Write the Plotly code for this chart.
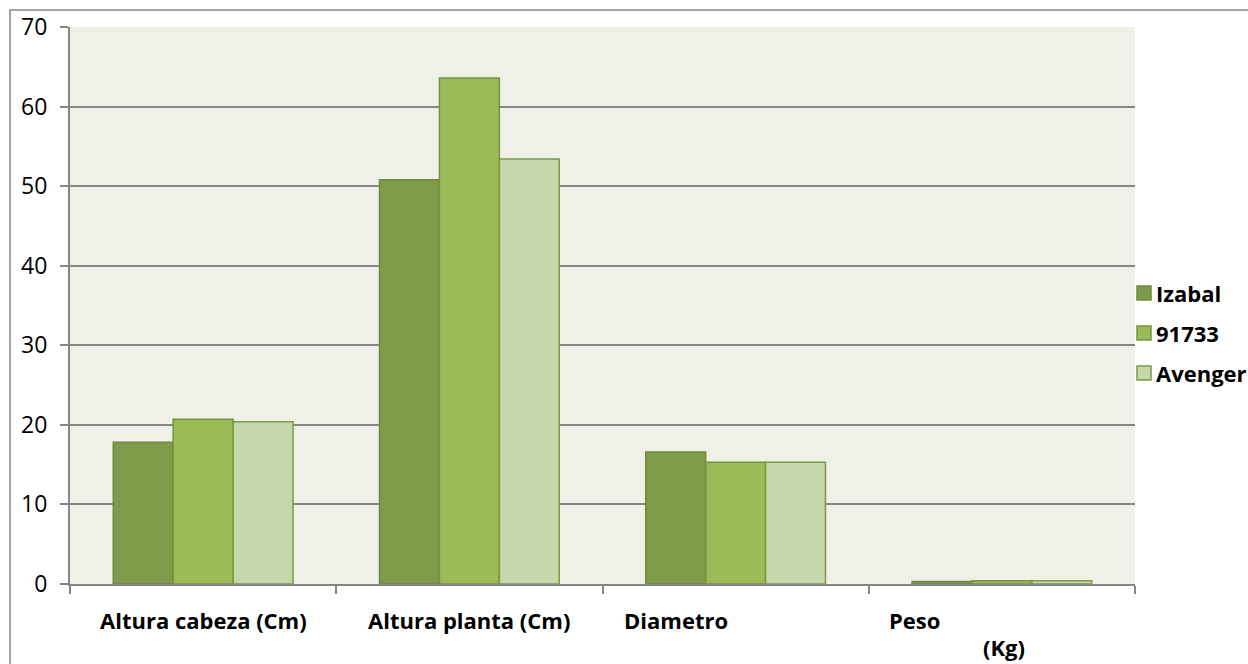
import plotly.graph_objects as go

categories = ["Altura cabeza (Cm)", "Altura planta (Cm)", "Diametro", "Peso (Kg)"]
series_names = ["Izabal", "91733", "Avenger"]
izabal = [17.8, 50.8, 16.6, 0.3]
s91733 = [20.7, 63.6, 15.3, 0.4]
avenger = [20.4, 53.4, 15.3, 0.4]
y_ticks = [0, 10, 20, 30, 40, 50, 60, 70]

fills = ["#7F9A48", "#9BBB59", "#C6D7AC"]
lines = ["#6F8A3A", "#76923C", "#7A9A3F"]

fig = go.Figure()
for i, (name, vals) in enumerate(zip(series_names, [izabal, s91733, avenger])):
    fig.add_trace(go.Bar(
        x=categories, y=vals, name=name, showlegend=False,
        marker=dict(color=fills[i], line=dict(color=lines[i], width=1.5)),
    ))

W, H = 1248, 664
L, R, T, B = 70, 113, 27, 80
pw, ph = W - L - R, H - T - B

def px_x(p):
    return (p - L) / pw

def px_y(p):
    return (H - B - p) / ph

# custom category labels (Excel-like wrapping/offset)
labels = [
    (0, "Altura cabeza (Cm)", 0, -36),
    (1, "Altura planta (Cm)", 0, -36),
    (2, "Diametro", -60, -36),
    (3, "Peso", -87, -36),
    (3, "(Kg)", 2, -63),
]
annotations = []
shapes = []
for idx, txt, xs, ys in labels:
    annotations.append(dict(
        x=categories[idx], xref="x", y=0, yref="paper", text=txt, showarrow=False,
        xanchor="center", yanchor="middle", xshift=xs, yshift=ys,
        font=dict(family="Open Sans", size=22, color="#000000", weight="bold"),
    ))

# manual legend (Excel style, tight at the right edge)
leg_y = [293, 333, 373]
for i, name in enumerate(series_names):
    shapes.append(dict(
        type="rect", xref="paper", yref="paper",
        x0=px_x(1137), x1=px_x(1151), y0=px_y(leg_y[i] + 7), y1=px_y(leg_y[i] - 7),
        fillcolor=fills[i], line=dict(color=lines[i], width=1.5), layer="above",
    ))
    annotations.append(dict(
        x=px_x(1154), xref="paper", y=px_y(leg_y[i]), yref="paper", text=name,
        showarrow=False, xanchor="left", yanchor="middle",
        font=dict(family="Open Sans", size=22, color="#000000", weight="bold"),
    ))

# outer chart border
shapes.append(dict(
    type="rect", xref="paper", yref="paper",
    x0=px_x(10), x1=1.3, y0=-0.3, y1=px_y(10),
    line=dict(color="#868686", width=1.5), fillcolor="rgba(0,0,0,0)", layer="above",
))

fig.update_layout(
    width=W, height=H,
    margin=dict(l=L, r=R, t=T, b=B, pad=0, autoexpand=False),
    paper_bgcolor="white",
    plot_bgcolor="#EFF1E8",
    barmode="group",
    bargap=0.325,
    bargroupgap=0,
    showlegend=False,
    xaxis=dict(
        showticklabels=False, ticks="outside", tickson="boundaries", ticklen=8,
        tickcolor="#868686", tickwidth=2, showline=True, linecolor="#868686",
        linewidth=2, showgrid=False, zeroline=False,
    ),
    yaxis=dict(
        range=[0, 70], tickvals=y_ticks, ticks="outside", ticklen=8,
        tickcolor="#868686", tickwidth=2, showline=True, linecolor="#868686",
        linewidth=2, showgrid=True, gridcolor="#868686", gridwidth=1.5,
        zeroline=False, ticklabelstandoff=8,
        tickfont=dict(family="Open Sans", size=23, color="#000000"),
    ),
    annotations=annotations,
    shapes=shapes,
)

fig.write_html(
    "out.html",
    config={"displayModeBar": False},
    post_script="document.body.style.margin='0';document.body.style.overflow='hidden';",
)
